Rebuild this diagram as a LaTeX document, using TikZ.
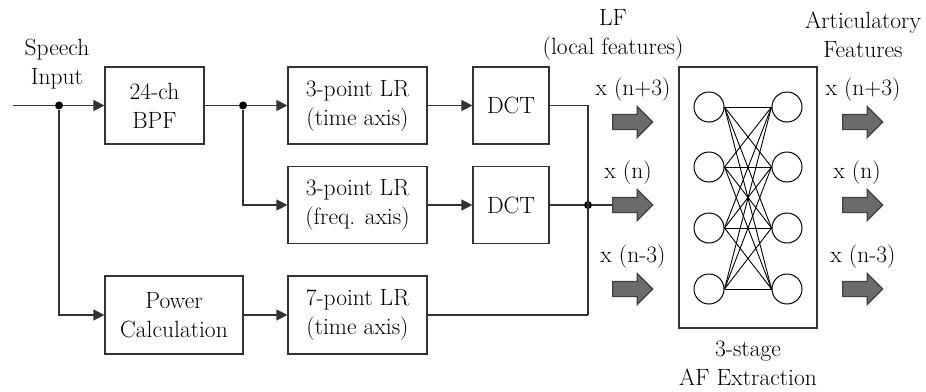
\documentclass[tikz,border=0pt]{standalone}
\usepackage{fontspec}
\usetikzlibrary{arrows.meta,shapes.arrows}
\begin{document}
\begin{tikzpicture}[x=1pt,y=-1pt,
  txt/.style={font=\fontsize{23.5}{29}\selectfont, align=center, inner sep=0pt},
  box/.style={txt, draw=black!80, line width=1.2pt, fill=white},
  conn/.style={draw=black!80, line width=1.2pt},
  arr/.style={conn, -{Triangle[length=11pt,width=11pt]}},
  jdot/.style={circle, fill=black, inner sep=0pt, minimum size=8pt},
  neuron/.style={circle, draw=black, line width=1pt, minimum size=30pt, inner sep=0pt},
  blockarrow/.style={single arrow, draw=black!75, fill=black!58, line width=1.2pt,
    minimum height=40pt, inner xsep=0pt, inner ysep=7pt, single arrow head extend=8pt}
]
\useasboundingbox (0,0) rectangle (926,391);
% labels
\node[txt] (speech) at (57,64) {Speech\\Input};
\node[txt] (lf) at (613,35) {LF\\(local features)};
\node[txt] (artic) at (863,35) {Articulatory\\Features};
\node[txt] (stage) at (748,363) {3-stage\\AF Extraction};
% boxes
\node[box, minimum width=99pt, minimum height=77pt] (bpf) at (154.5,105.5) {24-ch\\BPF};
\node[box, minimum width=138pt, minimum height=78pt] (pow) at (174,315) {Power\\Calculation};
\node[box, minimum width=139pt, minimum height=77pt] (lr1) at (357.5,105.5) {3-point LR\\(time axis)};
\node[box, minimum width=139pt, minimum height=77pt] (lr2) at (357.5,205) {3-point LR\\(freq. axis)};
\node[box, minimum width=139pt, minimum height=78pt] (lr3) at (357.5,315) {7-point LR\\(time axis)};
\node[box, minimum width=76pt, minimum height=77pt] (dct1) at (511,105.5) {DCT};
\node[box, minimum width=76pt, minimum height=77pt] (dct2) at (511,205) {DCT};
% junctions
\coordinate (in) at (13,105.5);
\node[jdot] (j1) at (59,105.5) {};
\node[jdot] (j2) at (243,105.5) {};
\node[jdot] (j3) at (588,205) {};
\coordinate (cb) at (588,315);
% connectors
\draw[conn] (in) -- (j1);
\draw[arr] (j1) -- (bpf.west);
\draw[arr] (j1) |- (pow.west);
\draw[conn] (bpf.east) -- (j2);
\draw[arr] (j2) -- (lr1.west);
\draw[arr] (j2) |- (lr2.west);
\draw[arr] (lr1) -- (dct1);
\draw[arr] (lr2) -- (dct2);
\draw[arr] (pow) -- (lr3);
\draw[conn] (dct1.east) -| (cb);
\draw[conn] (lr3.east) -- (cb);
\draw[conn] (dct2.east) -- (j3);
% block arrows left
\node[blockarrow] (a1) at (629,122) {};
\node[blockarrow] (a2) at (629,205) {};
\node[blockarrow] (a3) at (629,289) {};
\draw[conn] (j3) -- (a2.west);
\node[txt] (x1) at (633,90) {x (n+3)};
\node[txt] (x2) at (628,173) {x (n)};
\node[txt] (x3) at (633,257) {x (n-3)};
% AF box
\node[draw=black!80, line width=1.2pt, minimum width=138pt, minimum height=261pt, inner sep=0pt] (af) at (748,197.5) {};
\foreach \i/\y in {1/107,2/167,3/228,4/289} {
  \node[neuron] (L\i) at (709,\y) {};
  \node[neuron] (R\i) at (787,\y) {};
}
\foreach \i in {1,...,4} {
  \foreach \j in {1,...,4} {
    \draw[black, line width=0.9pt] (L\i.east) -- (R\j.west);
  }
}
% block arrows right
\node[blockarrow] (b1) at (859,122) {};
\node[blockarrow] (b2) at (859,205) {};
\node[blockarrow] (b3) at (859,289) {};
\node[txt] (y1) at (863,90) {x (n+3)};
\node[txt] (y2) at (857,173) {x (n)};
\node[txt] (y3) at (863,257) {x (n-3)};
\end{tikzpicture}
\end{document}
